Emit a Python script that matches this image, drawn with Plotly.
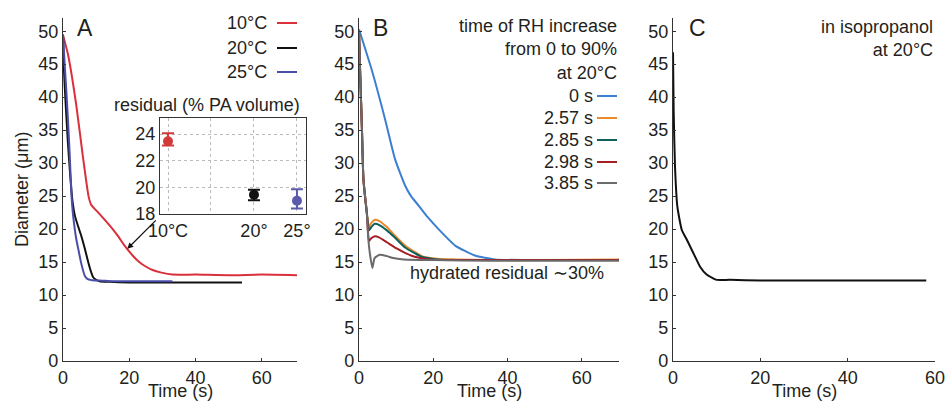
import plotly.graph_objects as go

# ---- data ----
# panel A: drying at three temperatures
t_10 = [0, 1.5, 4, 6, 7.7, 8.5, 11, 14, 16.5, 18.7, 21, 23, 24.7, 27, 29.7, 33, 40, 50, 60, 71]
d_10 = [49.4, 46.5, 38.8, 31, 25, 23.7, 22.3, 20.6, 19.0, 17.4, 16.0, 15.0, 14.4, 13.8, 13.4, 13.1, 13.1, 13.0, 13.1, 13.0]
t_20 = [0, 0.3, 0.8, 1.5, 2.2, 2.8, 3.6, 4.5, 5.5, 6.5, 7.6, 8.4, 9.1, 10, 11, 14, 20, 30, 40, 54]
d_20 = [49.5, 44, 39, 33, 28, 24.5, 22, 20.5, 19, 17.2, 15.0, 13.6, 12.7, 12.3, 12.1, 12.0, 11.9, 11.9, 11.9, 11.9]
t_25 = [0, 0.5, 1, 1.5, 2, 2.6, 3, 3.5, 4, 4.6, 5.5, 6.6, 7.5, 9.6, 11, 15, 20, 33]
d_25 = [49.5, 45, 41, 36.5, 31.5, 24.8, 22.3, 20.2, 18.5, 17.0, 14.8, 12.9, 12.4, 12.2, 12.2, 12.1, 12.1, 12.1]

# inset: residual (% PA volume)
res_temp = [10, 20, 25]
res_mean = [23.45, 19.45, 18.99]
res_plus = [0.6, 0.36, 0.87]
res_minus = [0.32, 0.41, 0.58]

# panel B: RH increase time
t_0s = [0, 3.4, 7, 9.7, 12.4, 14, 16, 18.5, 21.4, 25.9, 31.2, 36.6, 45, 55, 70]
d_0s = [50.3, 44.2, 36.7, 30.6, 26.6, 25.0, 23.6, 21.8, 20.0, 17.5, 16.0, 15.4, 15.3, 15.3, 15.3]
t_257 = [0, 0.3, 0.8, 1.2, 2.1, 2.7, 3.3, 4.3, 5.5, 7.5, 9.5, 12.4, 16.9, 21, 26, 35, 50, 70]
d_257 = [50, 44, 35, 27.5, 22.5, 20.3, 20.9, 21.4, 21.2, 20.3, 19.1, 17.5, 15.9, 15.5, 15.4, 15.3, 15.3, 15.4]
t_285 = [0, 0.3, 0.8, 1.2, 2.1, 2.7, 3.3, 4.3, 5.5, 7.5, 9.5, 12.4, 16.9, 21, 26, 35, 50, 70]
d_285 = [50, 44, 35, 27.5, 22.5, 19.8, 20.3, 20.8, 20.6, 19.8, 18.8, 17.2, 15.8, 15.4, 15.3, 15.3, 15.3, 15.3]
t_298 = [0, 0.3, 0.8, 1.2, 2.1, 2.7, 3.3, 4.3, 5.5, 7.5, 10, 12.4, 15, 19, 25, 35, 50, 70]
d_298 = [50, 44, 35, 27.5, 22.5, 18.2, 18.6, 18.9, 18.7, 18.0, 17.1, 16.4, 15.8, 15.4, 15.3, 15.3, 15.3, 15.3]
t_385 = [0, 0.3, 0.8, 1.2, 2.1, 2.5, 3.0, 3.6, 4.2, 5.6, 7.5, 9.2, 12, 20, 35, 50, 70]
d_385 = [50, 44, 35, 27.5, 22.5, 18.5, 16.0, 14.1, 15.6, 16.1, 15.9, 15.6, 15.4, 15.3, 15.2, 15.2, 15.2]

# panel C: isopropanol
t_iso = [0, 0.15, 0.46, 1, 2, 3, 3.9, 5, 6.2, 7.7, 9, 10, 13, 20, 30, 40, 50, 58]
d_iso = [46.8, 38, 29.5, 23.4, 19.9, 18.6, 17.4, 15.9, 14.3, 13.1, 12.6, 12.3, 12.3, 12.2, 12.2, 12.2, 12.2, 12.2]

inset_ticks = [10, 15, 20, 25]
inset_ticktext = ["10°C", "", "20°", "25°"]
y_ticks = [0, 5, 10, 15, 20, 25, 30, 35, 40, 45, 50]
t_ticks = [0, 20, 40, 60]

W, H = 947, 403
FONT = "Liberation Sans, Arial, Helvetica, sans-serif"
INK = "#231f20"
FS = 18


def px(x):
    return x / W


def py(y):
    return 1 - y / H


fig = go.Figure()

lw = 2
smooth = dict(shape="spline", smoothing=0.5)
fig.add_trace(go.Scatter(x=t_10, y=d_10, mode="lines", line=dict(color="#d9303c", width=lw, **smooth), xaxis="x", yaxis="y"))
fig.add_trace(go.Scatter(x=t_20, y=d_20, mode="lines", line=dict(color="#111111", width=lw, **smooth), xaxis="x", yaxis="y"))
fig.add_trace(go.Scatter(x=t_25, y=d_25, mode="lines", line=dict(color="#4a4ea8", width=lw, **smooth), xaxis="x", yaxis="y"))

inset_cols = ["#d23a3a", "#111111", "#5b5bab"]
for i in range(3):
    fig.add_trace(go.Scatter(
        x=[res_temp[i]], y=[res_mean[i]], mode="markers",
        marker=dict(color=inset_cols[i], size=10),
        error_y=dict(type="data", array=[res_plus[i]], arrayminus=[res_minus[i]],
                     color=inset_cols[i], thickness=2, width=6),
        xaxis="x4", yaxis="y4"))

b_cols = ["#3c7fd0", "#e98a2b", "#0f5f5f", "#a51e24", "#6a6a6a"]
for tt, dd, c in zip([t_0s, t_257, t_285, t_298, t_385],
                     [d_0s, d_257, d_285, d_298, d_385], b_cols):
    fig.add_trace(go.Scatter(x=tt, y=dd, mode="lines", line=dict(color=c, width=lw, **smooth), xaxis="x2", yaxis="y2"))

fig.add_trace(go.Scatter(x=t_iso, y=d_iso, mode="lines", line=dict(color="#111111", width=lw, **smooth), xaxis="x3", yaxis="y3"))

y_dom = [py(361), py(18)]
ax_common = dict(showline=True, linecolor="#333333", linewidth=1.3, showgrid=False, zeroline=False,
                 ticks="inside", ticklen=3, tickwidth=1, tickcolor="#333333",
                 tickfont=dict(size=FS, color=INK), automargin=False, fixedrange=True)
inset_ax = dict(showline=True, mirror=True, linecolor="#333333", linewidth=1.3,
                showgrid=True, gridcolor="#bbbbbb", griddash="dot", gridwidth=1, zeroline=False,
                ticks="", ticklen=0, tickfont=dict(size=FS, color=INK), automargin=False)

fig.update_layout(
    width=W, height=H, margin=dict(l=0, r=0, t=0, b=0),
    paper_bgcolor="white", plot_bgcolor="rgba(0,0,0,0)",
    showlegend=False, font=dict(family=FONT, size=FS, color=INK),
    xaxis=dict(domain=[px(63), px(297)], range=[0, 70.6], tickvals=t_ticks, anchor="y", **ax_common),
    yaxis=dict(domain=y_dom, range=[0, 52], tickvals=y_ticks, anchor="x", **ax_common),
    xaxis2=dict(domain=[px(359), px(619)], range=[0, 70], tickvals=t_ticks, anchor="y2", **ax_common),
    yaxis2=dict(domain=y_dom, range=[0, 52], tickvals=y_ticks, anchor="x2", **ax_common),
    xaxis3=dict(domain=[px(673), px(935)], range=[0, 60], tickvals=t_ticks, anchor="y3", **ax_common),
    yaxis3=dict(domain=y_dom, range=[0, 52], tickvals=y_ticks, anchor="x3", **ax_common),
    xaxis4=dict(domain=[px(160), px(306)], range=[9.07, 26.05], tickvals=inset_ticks, ticktext=inset_ticktext,
                anchor="y4", **inset_ax),
    yaxis4=dict(domain=[py(214), py(118)], range=[18, 25.2], tickvals=[18, 20, 22, 24],
                anchor="x4", **inset_ax),
)

ann = []


def txt(x, y, s, xanchor="center", size=FS, **kw):
    ann.append(dict(x=px(x), y=py(y), xref="paper", yref="paper", text=s, showarrow=False,
                    xanchor=xanchor, yanchor="middle", font=dict(size=size, color=INK), **kw))


# panel letters
txt(85, 28, "A", size=23)
txt(380, 28, "B", size=23)
txt(697, 28, "C", size=23)

# axis titles
txt(22, 190, "Diameter (μm)", textangle=-90)
for cx in [180, 489, 804]:
    txt(cx, 391, "Time (s)")

# legend A
shapes = []
legA = ["10°C", "20°C", "25°C"]
colA = ["#d9303c", "#111111", "#4a4ea8"]
for lab, c, yy in zip(legA, colA, [23, 48, 72]):
    txt(269, yy, lab, xanchor="right")
    shapes.append(dict(type="line", xref="paper", yref="paper", x0=px(277), x1=px(297),
                       y0=py(yy), y1=py(yy), line=dict(color=c, width=2)))

# inset title
txt(207, 105, "residual (% PA volume)")

# legend B
txt(619, 49, "time of RH increase<br>from 0 to 90%<br>at 20°C", xanchor="right", align="right")
legB = ["0 s", "2.57 s", "2.85 s", "2.98 s", "3.85 s"]
for lab, c, yy in zip(legB, b_cols, [96, 118, 140, 162, 183]):
    txt(595, yy, lab, xanchor="right")
    shapes.append(dict(type="line", xref="paper", yref="paper", x0=px(597), x1=px(617),
                       y0=py(yy), y1=py(yy), line=dict(color=c, width=2)))

txt(507, 273, "hydrated residual ∼30%")

# panel C label
txt(935, 38, "in isopropanol<br>at 20°C", xanchor="right", align="right")

# arrow from inset to the 10°C curve
ann.append(dict(x=19.4, y=17.0, xref="x", yref="y", ax=30, ay=-30, text="", showarrow=True,
                arrowhead=2, arrowsize=1, arrowwidth=1.2, arrowcolor="#111111"))

fig.update_layout(annotations=ann, shapes=shapes)

fig.write_html("out.html", config={"displayModeBar": False},
               post_script="document.body.style.margin='0';document.body.style.overflow='hidden';")
